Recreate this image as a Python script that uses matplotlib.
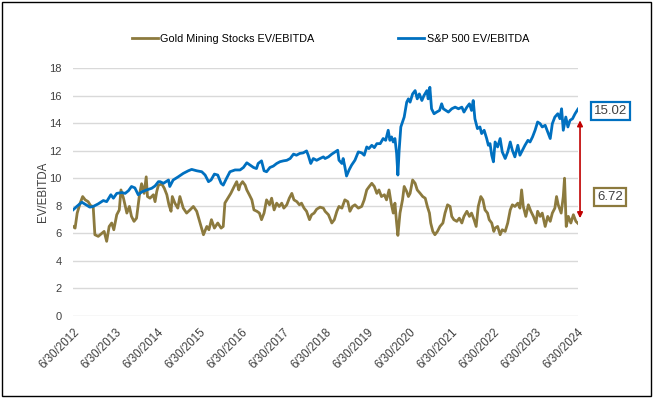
"""
Gold miners vs S&P 500 EV/EBITDA, 2012-2024
"""
import matplotlib.pyplot as plt
from matplotlib.patches import Rectangle

plt.rcParams['font.family'] = ['Liberation Sans', 'DejaVu Sans']

# time as decimal years
gold_t = [2012.50, 2012.55, 2012.60, 2012.67, 2012.73, 2012.79, 2012.86, 2012.92, 2012.98,
          2013.02, 2013.10, 2013.18, 2013.24, 2013.30, 2013.36, 2013.42, 2013.47, 2013.54,
          2013.60, 2013.64, 2013.70, 2013.78, 2013.84, 2013.89, 2013.95, 2014.01, 2014.08,
          2014.13, 2014.19, 2014.24, 2014.27, 2014.33, 2014.41, 2014.45, 2014.49, 2014.53,
          2014.61, 2014.67, 2014.73, 2014.78, 2014.83, 2014.86, 2014.92, 2014.99, 2015.04,
          2015.12, 2015.20, 2015.28, 2015.36, 2015.44, 2015.52, 2015.60, 2015.68, 2015.73,
          2015.79, 2015.86, 2015.94, 2016.02, 2016.07, 2016.11, 2016.18, 2016.25, 2016.33,
          2016.39, 2016.44, 2016.47, 2016.53, 2016.59, 2016.63, 2016.69, 2016.75, 2016.80,
          2016.87, 2016.93, 2016.98, 2017.04, 2017.10, 2017.17, 2017.22, 2017.28, 2017.34,
          2017.40, 2017.46, 2017.51, 2017.58, 2017.64, 2017.70, 2017.75, 2017.82, 2017.88,
          2017.93, 2017.99, 2018.05, 2018.12, 2018.17, 2018.23, 2018.29, 2018.37, 2018.45,
          2018.49, 2018.57, 2018.65, 2018.71, 2018.77, 2018.82, 2018.89, 2018.96, 2019.03,
          2019.08, 2019.14, 2019.20, 2019.28, 2019.36, 2019.42, 2019.48, 2019.54, 2019.60,
          2019.66, 2019.72, 2019.77, 2019.83, 2019.90, 2019.95, 2020.01, 2020.06, 2020.11,
          2020.15, 2020.19, 2020.22, 2020.27, 2020.33, 2020.37, 2020.43, 2020.47, 2020.51,
          2020.57, 2020.63, 2020.68, 2020.75, 2020.81, 2020.87, 2020.92, 2020.97, 2021.00,
          2021.05, 2021.10, 2021.16, 2021.22, 2021.29, 2021.34, 2021.40, 2021.46, 2021.50,
          2021.55, 2021.62, 2021.68, 2021.74, 2021.79, 2021.86, 2021.92, 2021.97, 2022.03,
          2022.08, 2022.13, 2022.19, 2022.24, 2022.29, 2022.35, 2022.39, 2022.45, 2022.50,
          2022.53, 2022.59, 2022.65, 2022.70, 2022.77, 2022.83, 2022.89, 2022.94, 2023.00,
          2023.07, 2023.12, 2023.16, 2023.20, 2023.26, 2023.32, 2023.38, 2023.44, 2023.50,
          2023.54, 2023.60, 2023.65, 2023.72, 2023.78, 2023.84, 2023.89, 2023.95, 2023.99,
          2024.03, 2024.10, 2024.15, 2024.18, 2024.22, 2024.27, 2024.33, 2024.39, 2024.45,
          2024.50]
gold_ev = [6.50, 6.38, 7.47, 8.19, 8.67, 8.43, 8.30, 8.00, 7.95,
           5.90, 5.78, 5.98, 6.14, 5.42, 6.50, 6.75, 6.26, 7.35,
           7.70, 9.15, 8.55, 7.47, 7.95, 7.23, 6.87, 7.10, 8.80,
           9.60, 8.90, 10.10, 8.67, 8.55, 8.80, 8.30, 9.03, 9.50,
           9.58, 9.27, 8.80, 8.07, 7.60, 8.67, 8.20, 7.83, 8.67,
           7.83, 7.47, 7.70, 7.95, 7.60, 6.75, 5.90, 6.50, 6.26,
           6.99, 6.38, 6.75, 6.38, 6.50, 8.20, 8.55, 8.90, 9.40,
           9.75, 9.15, 9.50, 9.75, 9.50, 9.15, 8.80, 8.43, 7.70,
           7.60, 7.47, 6.99, 7.47, 8.43, 8.07, 8.55, 7.70, 8.19,
           7.95, 8.19, 7.83, 8.07, 8.55, 8.90, 8.43, 8.30, 8.07,
           8.19, 7.83, 7.60, 6.99, 7.35, 7.47, 7.75, 7.90, 7.83,
           7.60, 7.35, 6.75, 6.99, 7.60, 7.95, 7.83, 8.43, 8.30,
           7.60, 7.95, 8.07, 7.83, 7.95, 8.43, 9.15, 9.40, 9.63,
           9.40, 8.90, 9.15, 8.67, 8.80, 8.43, 9.15, 8.19, 7.47,
           8.19, 6.75, 5.85, 7.47, 8.43, 9.40, 9.03, 8.67, 8.90,
           9.87, 9.63, 9.15, 8.90, 8.67, 8.55, 7.95, 7.47, 6.75,
           6.14, 5.90, 6.14, 6.50, 6.75, 7.47, 8.07, 7.95, 7.23,
           6.99, 6.87, 7.10, 6.75, 7.23, 7.60, 7.23, 7.47, 6.99,
           6.50, 7.95, 8.67, 8.43, 7.70, 7.47, 6.99, 6.75, 6.14,
           6.38, 6.50, 5.90, 6.26, 6.14, 6.75, 7.70, 8.07, 7.95,
           8.19, 7.83, 9.15, 7.95, 7.23, 8.07, 7.60, 7.23, 6.75,
           7.60, 7.23, 7.47, 6.50, 7.23, 6.87, 7.47, 7.83, 8.67,
           8.07, 7.47, 8.67, 10.00, 6.50, 7.23, 6.75, 7.35, 6.87,
           6.72]

spx_t = [2012.50, 2012.59, 2012.71, 2012.81, 2012.90, 2012.98, 2013.10, 2013.22, 2013.30,
         2013.40, 2013.46, 2013.54, 2013.66, 2013.74, 2013.82, 2013.89, 2013.97, 2014.05,
         2014.13, 2014.25, 2014.37, 2014.45, 2014.53, 2014.57, 2014.65, 2014.77, 2014.80,
         2014.88, 2015.00, 2015.12, 2015.24, 2015.32, 2015.44, 2015.56, 2015.64, 2015.72,
         2015.78, 2015.86, 2015.94, 2016.02, 2016.07, 2016.15, 2016.23, 2016.35, 2016.47,
         2016.55, 2016.63, 2016.71, 2016.79, 2016.86, 2016.90, 2016.98, 2017.04, 2017.10,
         2017.18, 2017.26, 2017.34, 2017.42, 2017.50, 2017.58, 2017.66, 2017.74, 2017.81,
         2017.89, 2017.97, 2018.05, 2018.09, 2018.15, 2018.21, 2018.29, 2018.37, 2018.45,
         2018.49, 2018.57, 2018.65, 2018.73, 2018.79, 2018.82, 2018.89, 2018.92, 2018.96,
         2019.00, 2019.06, 2019.12, 2019.20, 2019.28, 2019.36, 2019.42, 2019.48, 2019.53,
         2019.60, 2019.66, 2019.72, 2019.80, 2019.87, 2019.93, 2019.99, 2020.03, 2020.07,
         2020.11, 2020.15, 2020.19, 2020.22, 2020.25, 2020.29, 2020.33, 2020.37, 2020.43,
         2020.47, 2020.51, 2020.57, 2020.63, 2020.68, 2020.73, 2020.79, 2020.84, 2020.91,
         2020.94, 2020.98, 2021.02, 2021.08, 2021.14, 2021.21, 2021.26, 2021.30, 2021.36,
         2021.42, 2021.50, 2021.58, 2021.66, 2021.74, 2021.79, 2021.86, 2021.92, 2021.97,
         2022.01, 2022.05, 2022.11, 2022.17, 2022.21, 2022.27, 2022.33, 2022.37, 2022.41,
         2022.45, 2022.49, 2022.53, 2022.59, 2022.65, 2022.70, 2022.77, 2022.83, 2022.89,
         2022.94, 2023.00, 2023.07, 2023.12, 2023.18, 2023.24, 2023.31, 2023.36, 2023.42,
         2023.48, 2023.54, 2023.60, 2023.65, 2023.72, 2023.78, 2023.84, 2023.89, 2023.95,
         2024.02, 2024.07, 2024.11, 2024.15, 2024.21, 2024.26, 2024.31, 2024.37, 2024.43,
         2024.50]
spx_ev = [7.70, 7.95, 8.26, 8.07, 7.90, 7.95, 8.14, 8.38, 8.30,
          8.80, 8.55, 8.90, 8.96, 8.90, 9.10, 9.40, 9.30, 8.80,
          9.00, 9.15, 9.27, 9.44, 9.75, 9.75, 9.63, 9.87, 9.40,
          9.87, 10.10, 10.35, 10.54, 10.64, 10.54, 10.47, 10.23, 9.75,
          9.87, 10.30, 10.23, 9.63, 9.50, 10.00, 10.47, 10.60, 10.60,
          10.78, 11.12, 10.95, 10.78, 10.70, 11.07, 11.26, 10.54, 10.47,
          10.78, 10.88, 11.07, 11.20, 11.26, 11.30, 11.43, 11.75, 11.67,
          11.80, 11.84, 11.98, 11.67, 11.07, 11.43, 11.30, 11.43, 11.55,
          11.43, 11.55, 11.75, 11.91, 12.03, 11.31, 11.07, 11.43, 10.83,
          10.16, 10.60, 10.95, 11.31, 11.91, 11.84, 11.67, 12.27, 12.15,
          12.39, 12.22, 12.51, 12.51, 12.88, 12.75, 13.48, 12.75, 13.00,
          12.63, 12.88, 11.80, 10.23, 12.03, 13.72, 14.08, 14.44, 15.52,
          15.76, 15.52, 16.12, 16.36, 15.76, 16.12, 15.64, 16.00, 16.36,
          15.76, 16.60, 15.04, 14.68, 14.80, 14.92, 15.40, 15.04, 14.92,
          14.80, 15.04, 15.16, 15.04, 15.16, 14.80, 15.16, 15.40, 14.92,
          15.64, 14.32, 13.60, 13.72, 13.24, 13.48, 12.88, 12.39, 12.51,
          11.67, 11.19, 12.63, 12.27, 12.88, 11.91, 11.43, 11.91, 12.63,
          12.03, 11.55, 12.39, 11.67, 12.03, 12.39, 12.75, 12.63, 13.00,
          13.48, 14.08, 13.96, 13.72, 13.84, 13.36, 12.88, 13.96, 14.44,
          14.68, 14.32, 15.04, 13.48, 14.44, 13.72, 14.20, 14.32, 14.68,
          15.02]

tick_years = [2012.5 + i for i in range(13)]
tick_labels = ["6/30/%d" % (2012 + i) for i in range(13)]

gold_color = "#8C7A3E"
blue_color = "#0070C0"
text_color = "#404040"

fig = plt.figure(figsize=(6.54, 3.99), dpi=100)
ax = fig.add_axes([0.1116, 0.208, 0.7722, 0.6216])

ax.plot(gold_t, gold_ev, color=gold_color, lw=2.0, label="Gold Mining Stocks EV/EBITDA")
ax.plot(spx_t, spx_ev, color=blue_color, lw=2.0, label="S&P 500 EV/EBITDA")

ax.set_xlim(2012.5, 2024.5)
ax.set_ylim(0, 18)
ax.set_yticks(range(0, 19, 2))
ax.set_xticks(tick_years)
ax.set_xticklabels(tick_labels, rotation=45, ha="right", rotation_mode="anchor")
ax.tick_params(length=0, labelcolor=text_color)
ax.tick_params(axis="x", pad=7, labelsize=8.3)
ax.tick_params(axis="y", pad=8, labelsize=8)
ax.grid(axis="y", color="#D9D9D9", lw=1)
ax.set_axisbelow(True)
for s in ax.spines.values():
    s.set_visible(False)

ax.set_ylabel("EV/EBITDA", fontsize=8.3, color=text_color)
ax.yaxis.set_label_coords(-0.048, 0.5)

ax.legend(loc="center", bbox_to_anchor=(0.505, 0.902), bbox_transform=fig.transFigure,
          ncol=2, frameon=False, fontsize=7.8, handlelength=2.4, handletextpad=0.2,
          columnspacing=7.8, labelcolor="#000000")

# end-value labels and spread arrow
trans = ax.get_yaxis_transform()
ax.text(1.064, 14.9, "%.2f" % spx_ev[-1], transform=trans, ha="center", va="center",
        fontsize=9.5, color=text_color, clip_on=False,
        bbox=dict(boxstyle="square,pad=0.22", fc="white", ec=blue_color, lw=1.6))
ax.text(1.063, 8.65, "%.2f" % gold_ev[-1], transform=trans, ha="center", va="center",
        fontsize=9.5, color=text_color, clip_on=False,
        bbox=dict(boxstyle="square,pad=0.22", fc="white", ec=gold_color, lw=1.6))
ax.annotate("", xy=(1.004, 14.2), xytext=(1.004, 7.1), xycoords=trans, textcoords=trans,
            arrowprops=dict(arrowstyle="<|-|>", color="#C00000", lw=1.2,
                            mutation_scale=8, shrinkA=0, shrinkB=0),
            annotation_clip=False)

fig.patches.append(Rectangle((0.003, 0.007), 0.993, 0.988, transform=fig.transFigure,
                             fill=False, ec="black", lw=1))

fig.savefig("out.png", dpi=100)
